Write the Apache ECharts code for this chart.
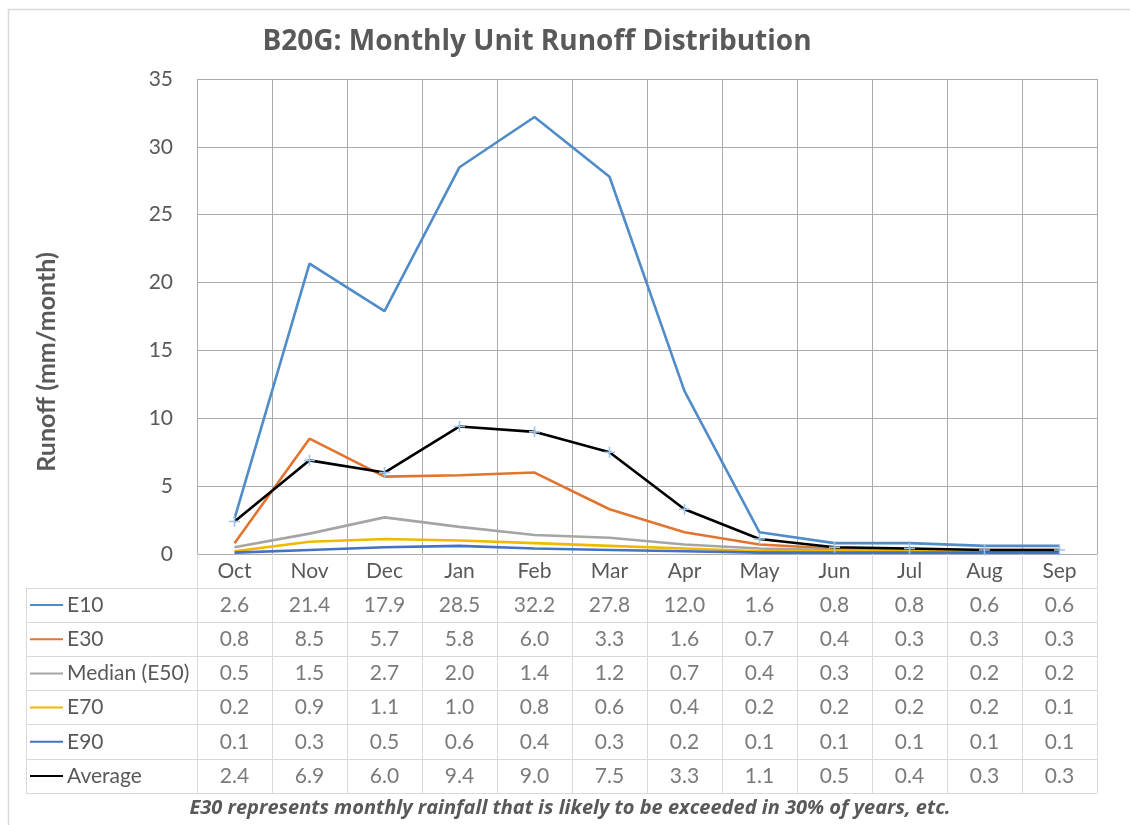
<!DOCTYPE html>
<html><head><meta charset="utf-8">
<script src="https://cdn.jsdelivr.net/npm/echarts@6/dist/echarts.min.js"></script>
<style>html,body{margin:0;padding:0;background:#fff}#c{width:1130px;height:825px}</style>
</head><body><div id="c"></div>
<script>
const months = ['Oct','Nov','Dec','Jan','Feb','Mar','Apr','May','Jun','Jul','Aug','Sep'];
const seriesNames = ['E10','E30','Median (E50)','E70','E90','Average'];
const e10 = [2.6,21.4,17.9,28.5,32.2,27.8,12.0,1.6,0.8,0.8,0.6,0.6];
const e30 = [0.8,8.5,5.7,5.8,6.0,3.3,1.6,0.7,0.4,0.3,0.3,0.3];
const e50 = [0.5,1.5,2.7,2.0,1.4,1.2,0.7,0.4,0.3,0.2,0.2,0.2];
const e70 = [0.2,0.9,1.1,1.0,0.8,0.6,0.4,0.2,0.2,0.2,0.2,0.1];
const e90 = [0.1,0.3,0.5,0.6,0.4,0.3,0.2,0.1,0.1,0.1,0.1,0.1];
const avg = [2.4,6.9,6.0,9.4,9.0,7.5,3.3,1.1,0.5,0.4,0.3,0.3];
const yMin = 0, yMax = 35, yInterval = 5;
const titleText = 'B20G: Monthly Unit Runoff Distribution';
const yTitle = 'Runoff (mm/month)';
const footnote = 'E30 represents monthly rainfall that is likely to be exceeded in 30% of years, etc.';

const allValues = [e10, e30, e50, e70, e90, avg];
const colors = ['#4f8cc9', '#e2742f', '#a5a5a5', '#f2b800', '#4472c4', '#000000'];
const FONT = 'Lato';
const TXT = '#595959';
const PLOT_GRID = '#ababab';
const TABLE_GRID = '#d9d9d9';

const chart = echarts.init(document.getElementById('c'), null, {renderer: 'canvas'});

const rich = {t: {fontSize: 21, color: TXT, fontFamily: FONT, padding: [0, 0, 0, 4]}};
seriesNames.forEach((n, i) => {
  rich['l' + i] = {width: 33, height: 2, backgroundColor: colors[i]};
});

const lineSeries = seriesNames.map((n, i) => {
  const isAvg = n === 'Average';
  return {
    name: n, type: 'line', xAxisIndex: 0, yAxisIndex: 0,
    data: allValues[i],
    symbol: isAvg ? 'path://M4.3,0h1.4v4.3h4.3v1.4h-4.3v4.3h-1.4v-4.3h-4.3v-1.4h4.3z' : 'none',
    symbolSize: 11,
    showSymbol: isAvg,
    itemStyle: {color: isAvg ? '#9dc3e6' : colors[i]},
    lineStyle: {color: colors[i], width: 2.6},
    z: 2 + i
  };
});

const tableSeries = seriesNames.map((n, i) => ({
  name: n + ' table', type: 'scatter', xAxisIndex: 1, yAxisIndex: 1,
  data: allValues[i].map((v, j) => [months[j], n, v]),
  symbol: 'rect', symbolSize: 1,
  itemStyle: {color: 'rgba(0,0,0,0)'},
  label: {show: true, position: 'inside', formatter: p => p.value[2].toFixed(1),
          fontSize: 21, color: TXT, fontFamily: FONT}
}));

chart.setOption({
  animation: false,
  backgroundColor: '#fff',
  textStyle: {fontFamily: FONT},
  grid: [
    {left: 197, top: 79, width: 900, height: 475},
    {left: 197, top: 588, width: 900, height: 205},
    {left: 26, top: 588, width: 171, height: 205}
  ],
  xAxis: [
    {gridIndex: 0, type: 'category', data: months, boundaryGap: true,
     axisLine: {show: false}, axisTick: {show: false}, axisLabel: {show: false},
     splitLine: {show: true, lineStyle: {color: PLOT_GRID, width: 1}}},
    {gridIndex: 1, type: 'category', data: months, boundaryGap: true, position: 'top',
     axisLine: {show: true, lineStyle: {color: TABLE_GRID, width: 1}},
     axisTick: {show: true, length: 34, lineStyle: {color: TABLE_GRID, width: 1}},
     axisLabel: {show: true, fontSize: 21, color: TXT, fontFamily: FONT, margin: 6},
     splitLine: {show: true, lineStyle: {color: TABLE_GRID, width: 1}}},
    {gridIndex: 2, type: 'value', show: false}
  ],
  yAxis: [
    {gridIndex: 0, type: 'value', min: yMin, max: yMax, interval: yInterval,
     axisLine: {show: false}, axisTick: {show: false},
     axisLabel: {fontSize: 21, color: TXT, fontFamily: FONT, margin: 24},
     splitLine: {show: true, lineStyle: {color: PLOT_GRID, width: 1}}},
    {gridIndex: 1, type: 'category', data: seriesNames, inverse: true,
     axisLine: {show: true, lineStyle: {color: TABLE_GRID, width: 1}},
     axisTick: {show: false}, axisLabel: {show: false},
     splitLine: {show: true, lineStyle: {color: TABLE_GRID, width: 1}}},
    {gridIndex: 2, type: 'category', data: seriesNames, inverse: true,
     axisLine: {show: true, lineStyle: {color: TABLE_GRID, width: 1}},
     axisTick: {show: false},
     axisLabel: {show: true, inside: true, margin: 4, align: 'left',
       formatter: (v) => '{l' + seriesNames.indexOf(v) + '|}{t|' + v + '}', rich: rich},
     splitLine: {show: true, lineStyle: {color: TABLE_GRID, width: 1}}}
  ],
  graphic: [
    {type: 'rect', left: 6, top: 7, shape: {width: 1140, height: 840},
     style: {fill: 'none', stroke: TABLE_GRID, lineWidth: 1.5}, silent: true},
    {type: 'text', x: 537, y: 42, style: {text: titleText, fontSize: 28, fontWeight: 'bold',
      fill: TXT, fontFamily: 'Open Sans', align: 'center', verticalAlign: 'middle'}},
    {type: 'text', x: 47, y: 362, rotation: Math.PI / 2, style: {text: yTitle, fontSize: 25,
      fontWeight: 'bold', fill: TXT, fontFamily: FONT, align: 'center', verticalAlign: 'middle'}},
    {type: 'text', x: 570, y: 808, style: {text: footnote, fontSize: 20, fontWeight: 'bold',
      fontStyle: 'italic', fill: TXT, fontFamily: 'Open Sans', align: 'center', verticalAlign: 'middle'}}
  ],
  series: lineSeries.concat(tableSeries)
});
</script></body></html>
